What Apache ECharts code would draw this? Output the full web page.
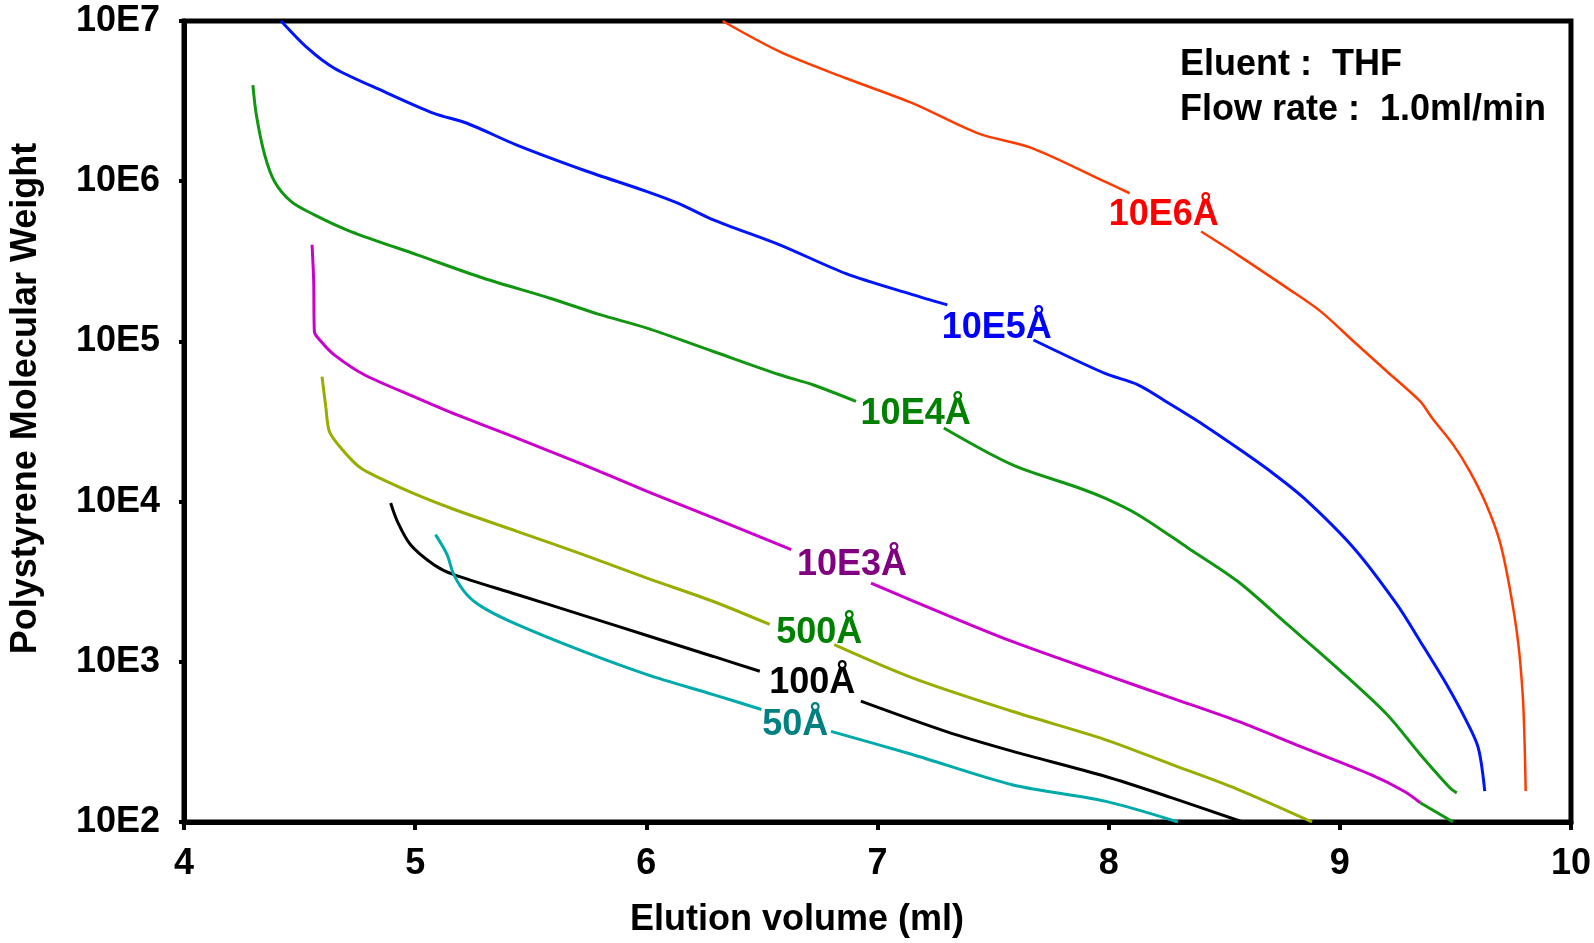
<!DOCTYPE html>
<html>
<head>
<meta charset="utf-8">
<script src="https://cdn.jsdelivr.net/npm/echarts@6/dist/echarts.min.js"></script>
<style>
html,body{margin:0;padding:0;background:#fff;}
#chart{width:1594px;height:943px;}
</style>
</head>
<body>
<div id="chart"></div>
<script>
// ---- data (elution volume in ml, polystyrene molecular weight) ----
const yTickLabels = ['10E2', '10E3', '10E4', '10E5', '10E6', '10E7'];

const vol_10E6 = [6.33, 6.577, 6.864, 7.151, 7.438, 7.668, 7.984, 8.091, null, 8.40, 8.558, 8.773, 8.917, 9.06, 9.204, 9.348, 9.40, 9.491, 9.563, 9.634, 9.692, 9.735, 9.771, 9.792, 9.80, 9.804];
const mw_10E6  = [1.0e7, 6.44e6, 4.39e6, 3.07e6, 1.98e6, 1.61e6, 9.93e5, 8.41e5, null, 4.85e5, 3.47e5, 2.15e5, 1.54e5, 9.98e4, 6.49e4, 4.22e4, 3.31e4, 2.26e4, 1.54e4, 9.57e3, 5.65e3, 2.89e3, 1.34e3, 596, 290, 156];

const vol_10E5 = [4.42, 4.535, 4.650, 4.866, 5.081, 5.224, 5.440, 5.727, 6.003, 6.146, 6.29, 6.577, 6.864, 7.151, 7.302, null, 7.675, 7.984, 8.127, 8.271, 8.414, 8.558, 8.701, 8.845, 9.06, 9.247, 9.348, 9.462, 9.548, 9.599, 9.627];
const mw_10E5  = [1.0e7, 6.76e6, 5.07e6, 3.62e6, 2.65e6, 2.30e6, 1.68e6, 1.175e6, 8.61e5, 7.20e5, 5.74e5, 4.01e5, 2.65e5, 1.96e5, 1.69e5, null, 1.02e5, 6.31e4, 5.36e4, 4.02e4, 2.99e4, 2.16e4, 1.54e4, 1.05e4, 5.13e3, 2.28e3, 1.34e3, 721, 426, 290, 156];

const vol_10E4 = [4.298, 4.313, 4.349, 4.392, 4.464, 4.564, 4.722, 5.009, 5.296, 5.583, 5.799, 6.003, 6.29, 6.577, 6.72, 6.907, null, 7.287, 7.582, 7.869, 7.984, 8.127, 8.343, 8.558, 8.773, 8.988, 9.204, 9.348, 9.477, 9.506];
const mw_10E4  = [3.98e6, 2.59e6, 1.46e6, 9.93e5, 7.46e5, 6.17e5, 4.85e5, 3.47e5, 2.48e5, 1.86e5, 1.47e5, 1.21e5, 8.65e4, 6.19e4, 5.36e4, 4.22e4, null, 2.88e4, 1.70e4, 1.22e4, 1.05e4, 8.28e3, 5.14e3, 3.18e3, 1.71e3, 916, 469, 264, 163, 152];

const vol_10E3 = [4.554, 4.561, 4.564, 4.593, 4.650, 4.78, 5.009, 5.181, 5.44, 5.727, 6.003, 6.29, 6.627, null, 6.972, 7.295, 7.582, 7.984, 8.271, 8.558, 8.845, 9.132, 9.276, 9.348];
const mw_10E3  = [4.01e5, 2.37e5, 1.15e5, 9.98e4, 8.24e4, 6.19e4, 4.43e4, 3.48e4, 2.49e4, 1.70e4, 1.16e4, 7.91e3, 5.01e3, null, 3.10e3, 1.97e3, 1.34e3, 832, 596, 426, 290, 198, 156, 132];
const vol_10E3_tail = [9.348, 9.49];
const mw_10E3_tail  = [132, 100];

const vol_500 = [4.597, 4.614, 4.629, 4.679, 4.765, 4.938, 5.153, 5.44, 5.727, 6.003, 6.29, 6.534, null, 6.813, 7.151, 7.582, 7.984, 8.271, 8.558, 8.88];
const mw_500  = [6.03e4, 3.84e4, 2.74e4, 2.16e4, 1.62e4, 1.22e4, 9.12e3, 6.52e3, 4.67e3, 3.33e3, 2.38e3, 1.71e3, null, 1.28e3, 794, 491, 327, 229, 160, 100];

const vol_100 = [4.894, 4.923, 4.98, 5.081, 5.167, 5.44, 5.727, 6.003, 6.29, 6.491, null, 6.928, 7.295, 7.582, 7.984, 8.271, 8.58];
const mw_100  = [9.79e3, 7.53e3, 5.38e3, 4.04e3, 3.50e3, 2.63e3, 1.95e3, 1.46e3, 1.08e3, 873, null, 568, 368, 277, 193, 142, 100];

const vol_50 = [5.088, 5.138, 5.167, 5.224, 5.296, 5.44, 5.727, 6.003, 6.29, 6.498, null, 6.799, 7.151, 7.582, 7.984, 8.30];
const mw_50  = [6.22e3, 4.67e3, 3.50e3, 2.62e3, 2.17e3, 1.71e3, 1.16e3, 832, 624, 504, null, 368, 264, 171, 135, 100];

// curve label names and anchor points (volume, MW)
const curveNames = ['10E6Å', '10E5Å', '10E4Å', '10E3Å', '500Å', '100Å', '50Å'];
const labelVol = [8.238, 7.516, 7.165, 6.890, 6.748, 6.718, 6.644];
const labelMW  = [6.43e5, 1.27e5, 3.69e4, 4.19e3, 1.58e3, 774, 421];

const FONT = '"Liberation Sans", Arial, Helvetica, sans-serif';

function pairs(vols, mws) {
  return vols.map((v, i) => (v === null ? ['-', '-'] : [v, mws[i]]));
}

const curves = [
  {vol: vol_10E6, mw: mw_10E6, line: '#ff3c00', label: '#ff0000', width: 2.5},
  {vol: vol_10E5, mw: mw_10E5, line: '#0014ff', label: '#0000ff', width: 3},
  {vol: vol_10E4, mw: mw_10E4, line: '#119611', label: '#008000', width: 3},
  {vol: vol_10E3, mw: mw_10E3, line: '#cc00cc', label: '#800080', width: 3},
  {vol: vol_500, mw: mw_500, line: '#99ad00', label: '#008000', width: 3},
  {vol: vol_100, mw: mw_100, line: '#000000', label: '#000000', width: 3},
  {vol: vol_50, mw: mw_50, line: '#00aaaa', label: '#008080', width: 3}
];

const series = curves.map((c, i) => ({
  name: curveNames[i],
  type: 'line',
  data: pairs(c.vol, c.mw),
  showSymbol: false,
  symbol: 'none',
  smooth: 0.3,
  connectNulls: false,
  lineStyle: {color: c.line, width: c.width},
  itemStyle: {color: c.line},
  z: 3,
  silent: true,
  markPoint: {
    silent: true,
    symbol: 'circle',
    symbolSize: 1,
    itemStyle: {color: 'rgba(0,0,0,0)'},
    data: [{
      coord: [labelVol[i], labelMW[i]],
      label: {
        show: true,
        position: 'inside',
        offset: [0, 3],
        formatter: curveNames[i],
        color: c.label,
        fontFamily: FONT,
        fontWeight: 'bold',
        fontSize: 36
      }
    }]
  }
}));

series.push({
  name: '10E3Å tail',
  type: 'line',
  data: pairs(vol_10E3_tail, mw_10E3_tail),
  showSymbol: false,
  symbol: 'none',
  lineStyle: {color: '#119611', width: 3},
  z: 3,
  silent: true
});

const chart = echarts.init(document.getElementById('chart'), null, {renderer: 'canvas'});

chart.setOption({
  animation: false,
  backgroundColor: '#ffffff',
  grid: {
    left: 180, right: 21, top: 21, bottom: 120.5,
    show: true, borderColor: '#000', borderWidth: 5, backgroundColor: 'transparent'
  },
  xAxis: {
    type: 'value',
    min: 4, max: 10, interval: 1,
    name: 'Elution volume (ml)',
    nameLocation: 'middle',
    nameGap: 80,
    nameTextStyle: {
      color: '#000', fontFamily: FONT, fontWeight: 'bold', fontSize: 36,
      padding: [0, 161, 0, 0]
    },
    axisLine: {show: true, lineStyle: {color: '#000', width: 5}},
    axisTick: {show: true, length: 8, lineStyle: {color: '#000', width: 4}},
    splitLine: {show: false},
    axisLabel: {
      color: '#000', fontFamily: FONT, fontWeight: 'bold', fontSize: 36, margin: 24
    }
  },
  yAxis: {
    type: 'log',
    logBase: 10,
    min: 100, max: 1e7,
    splitNumber: 5,
    name: 'Polystyrene Molecular Weight',
    nameLocation: 'middle',
    nameGap: 140,
    nameTextStyle: {
      color: '#000', fontFamily: FONT, fontWeight: 'bold', fontSize: 36,
      padding: [0, 0, 0, 46]
    },
    axisLine: {show: true, lineStyle: {color: '#000', width: 5}},
    axisTick: {show: true, length: 5, lineStyle: {color: '#000', width: 4}},
    minorTick: {show: false},
    splitLine: {show: false},
    axisLabel: {
      color: '#000', fontFamily: FONT, fontWeight: 'bold', fontSize: 36, margin: 24,
      padding: [0, 0, 8, 0],
      formatter: function (v) {
        const e = Math.round(Math.log10(v));
        return yTickLabels[e - 2] !== undefined ? yTickLabels[e - 2] : '';
      }
    }
  },
  graphic: [
    {
      type: 'text', left: 1180, top: 47, silent: true,
      style: {text: 'Eluent :  THF', fill: '#000', font: 'bold 36px ' + FONT}
    },
    {
      type: 'text', left: 1180, top: 92, silent: true,
      style: {text: 'Flow rate :  1.0ml/min', fill: '#000', font: 'bold 36px ' + FONT}
    }
  ],
  series: series
});
</script>
</body>
</html>
